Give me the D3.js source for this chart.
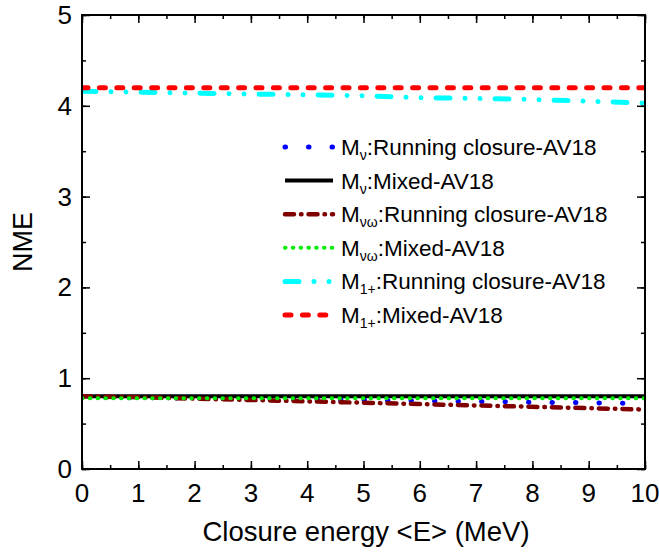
<!DOCTYPE html>
<html>
<head>
<meta charset="utf-8">
<script src="https://cdn.jsdelivr.net/npm/d3@7"></script>
<style>
  body { margin: 0; background: #fff; }
  text { font-family: Arial, "Liberation Sans", sans-serif; }
</style>
</head>
<body>
<div id="chart"></div>
<script>
var energy = [0, 1, 2, 3, 4, 5, 6, 7, 8, 9, 10];
var mnuRunning   = [0.79, 0.785, 0.78, 0.775, 0.765, 0.76, 0.75, 0.745, 0.735, 0.73, 0.72];
var mnuMixed     = [0.80, 0.80, 0.80, 0.80, 0.80, 0.80, 0.80, 0.80, 0.80, 0.80, 0.80];
var mnuwRunning  = [0.80, 0.79, 0.775, 0.76, 0.745, 0.73, 0.715, 0.70, 0.685, 0.67, 0.655];
var mnuwMixed    = [0.78, 0.78, 0.78, 0.78, 0.78, 0.78, 0.78, 0.78, 0.78, 0.78, 0.78];
var m1Running    = [4.16, 4.15, 4.14, 4.13, 4.12, 4.11, 4.09, 4.08, 4.07, 4.05, 4.03];
var m1Mixed      = [4.20, 4.20, 4.20, 4.20, 4.20, 4.20, 4.20, 4.20, 4.20, 4.20, 4.20];
var xTicks = [0, 1, 2, 3, 4, 5, 6, 7, 8, 9, 10];
var yTicks = [0, 1, 2, 3, 4, 5];

var width = 659, height = 556;
var mLeft = 82, mRight = 645, mTop = 15, mBottom = 469;

var svg = d3.select('#chart').append('svg')
            .attr('width', width).attr('height', height);

var x = d3.scaleLinear().domain([0, 10]).range([mLeft, mRight]);
var y = d3.scaleLinear().domain([0, 5]).range([mBottom, mTop]);

// series, in drawing order
var series = [
  {vals: mnuRunning,  color: '#0000ff', w: 5,   dash: '0.5 23', cap: 'round', sub: 'ν',  txt: ':Running closure-AV18'},
  {vals: mnuMixed,    color: '#000000', w: 4,   dash: null,     cap: 'butt',  sub: 'ν',  txt: ':Mixed-AV18'},
  {vals: mnuwRunning, color: '#800000', w: 4.5, dash: '9 7 0.5 7', cap: 'round', sub: 'νω', txt: ':Running closure-AV18'},
  {vals: mnuwMixed,   color: '#00ee00', w: 4,   dash: '0.5 7.3', cap: 'round', sub: 'νω', txt: ':Mixed-AV18'},
  {vals: m1Running,   color: '#00ffff', w: 5,   dash: '14 15 0.01 15 0.01 15', cap: 'round', sub: '1+', txt: ':Running closure-AV18'},
  {vals: m1Mixed,     color: '#ff0000', w: 5,   dash: '6 11.4', cap: 'round', sub: '1+', txt: ':Mixed-AV18'}
];

var line = d3.line()
             .x(function(d, i){ return x(energy[i]); })
             .y(function(d){ return y(d); });

var plot = svg.append('g');
plot.append('clipPath').attr('id', 'clip').append('rect')
    .attr('x', mLeft).attr('y', mTop).attr('width', mRight - mLeft).attr('height', mBottom - mTop);

plot.selectAll('path.series').data(series).enter().append('path')
    .attr('class', 'series')
    .attr('clip-path', 'url(#clip)')
    .attr('d', function(d){ return line(d.vals); })
    .attr('fill', 'none')
    .attr('stroke', function(d){ return d.color; })
    .attr('stroke-width', function(d){ return d.w; })
    .attr('stroke-dasharray', function(d){ return d.dash; })
    .attr('stroke-linecap', function(d){ return d.cap; });

// axes, ticks pointing inward
var xMinor = d3.range(0, 10.01, 0.5);
var yMinor = d3.range(0, 5.01, 0.5);

function noDomain(g){ g.select('.domain').remove(); }

svg.append('g').attr('transform', 'translate(0,' + mBottom + ')')
   .call(d3.axisTop(x).tickValues(xMinor).tickSize(4).tickFormat('')).call(noDomain);
svg.append('g').attr('transform', 'translate(0,' + mBottom + ')')
   .call(d3.axisTop(x).tickValues(xTicks).tickSize(8).tickFormat('')).call(noDomain);
svg.append('g').attr('transform', 'translate(0,' + mTop + ')')
   .call(d3.axisBottom(x).tickValues(xMinor).tickSize(4).tickFormat('')).call(noDomain);
svg.append('g').attr('transform', 'translate(0,' + mTop + ')')
   .call(d3.axisBottom(x).tickValues(xTicks).tickSize(8).tickFormat('')).call(noDomain);

svg.append('g').attr('transform', 'translate(' + mLeft + ',0)')
   .call(d3.axisRight(y).tickValues(yMinor).tickSize(4).tickFormat('')).call(noDomain);
svg.append('g').attr('transform', 'translate(' + mLeft + ',0)')
   .call(d3.axisRight(y).tickValues(yTicks).tickSize(8).tickFormat('')).call(noDomain);
svg.append('g').attr('transform', 'translate(' + mRight + ',0)')
   .call(d3.axisLeft(y).tickValues(yMinor).tickSize(4).tickFormat('')).call(noDomain);
svg.append('g').attr('transform', 'translate(' + mRight + ',0)')
   .call(d3.axisLeft(y).tickValues(yTicks).tickSize(8).tickFormat('')).call(noDomain);

svg.selectAll('.tick line').attr('stroke', '#000').attr('stroke-width', 1.5);

svg.append('rect')
   .attr('x', mLeft).attr('y', mTop).attr('width', mRight - mLeft).attr('height', mBottom - mTop)
   .attr('fill', 'none').attr('stroke', '#000').attr('stroke-width', 2);

// tick labels
svg.selectAll('text.xt').data(xTicks).enter().append('text')
   .attr('class', 'xt')
   .attr('x', function(d){ return x(d); }).attr('y', mBottom + 33)
   .attr('text-anchor', 'middle').attr('font-size', '26px')
   .text(function(d){ return d; });

svg.selectAll('text.yt').data(yTicks).enter().append('text')
   .attr('class', 'yt')
   .attr('x', mLeft - 10).attr('y', function(d){ return y(d) + 9; })
   .attr('text-anchor', 'end').attr('font-size', '26px')
   .text(function(d){ return d; });

svg.append('text')
   .attr('x', 366).attr('y', 541)
   .attr('text-anchor', 'middle').attr('font-size', '27.5px')
   .text('Closure energy <E> (MeV)');

svg.append('text')
   .attr('transform', 'translate(32,' + ((mTop + mBottom) / 2) + ') rotate(-90)')
   .attr('text-anchor', 'middle').attr('font-size', '27px')
   .text('NME');

// legend
var legend = svg.append('g');
var rows = legend.selectAll('g').data(series).enter().append('g')
   .attr('transform', function(d, i){ return 'translate(0,' + (147 + i * 33.6) + ')'; });

rows.append('line')
    .attr('x1', 285).attr('x2', 333).attr('y1', 0).attr('y2', 0)
    .attr('stroke', function(d){ return d.color; })
    .attr('stroke-width', function(d){ return d.w; })
    .attr('stroke-dasharray', function(d){ return d.dash; })
    .attr('stroke-linecap', function(d){ return d.cap; });

var lt = rows.append('text')
    .attr('x', 341).attr('y', 8).attr('font-size', '22.5px');
lt.append('tspan').text('M');
lt.append('tspan').attr('font-size', '14px').attr('dy', 5).text(function(d){ return d.sub; });
lt.append('tspan').attr('dy', -5).text(function(d){ return d.txt; });
</script>
</body>
</html>
